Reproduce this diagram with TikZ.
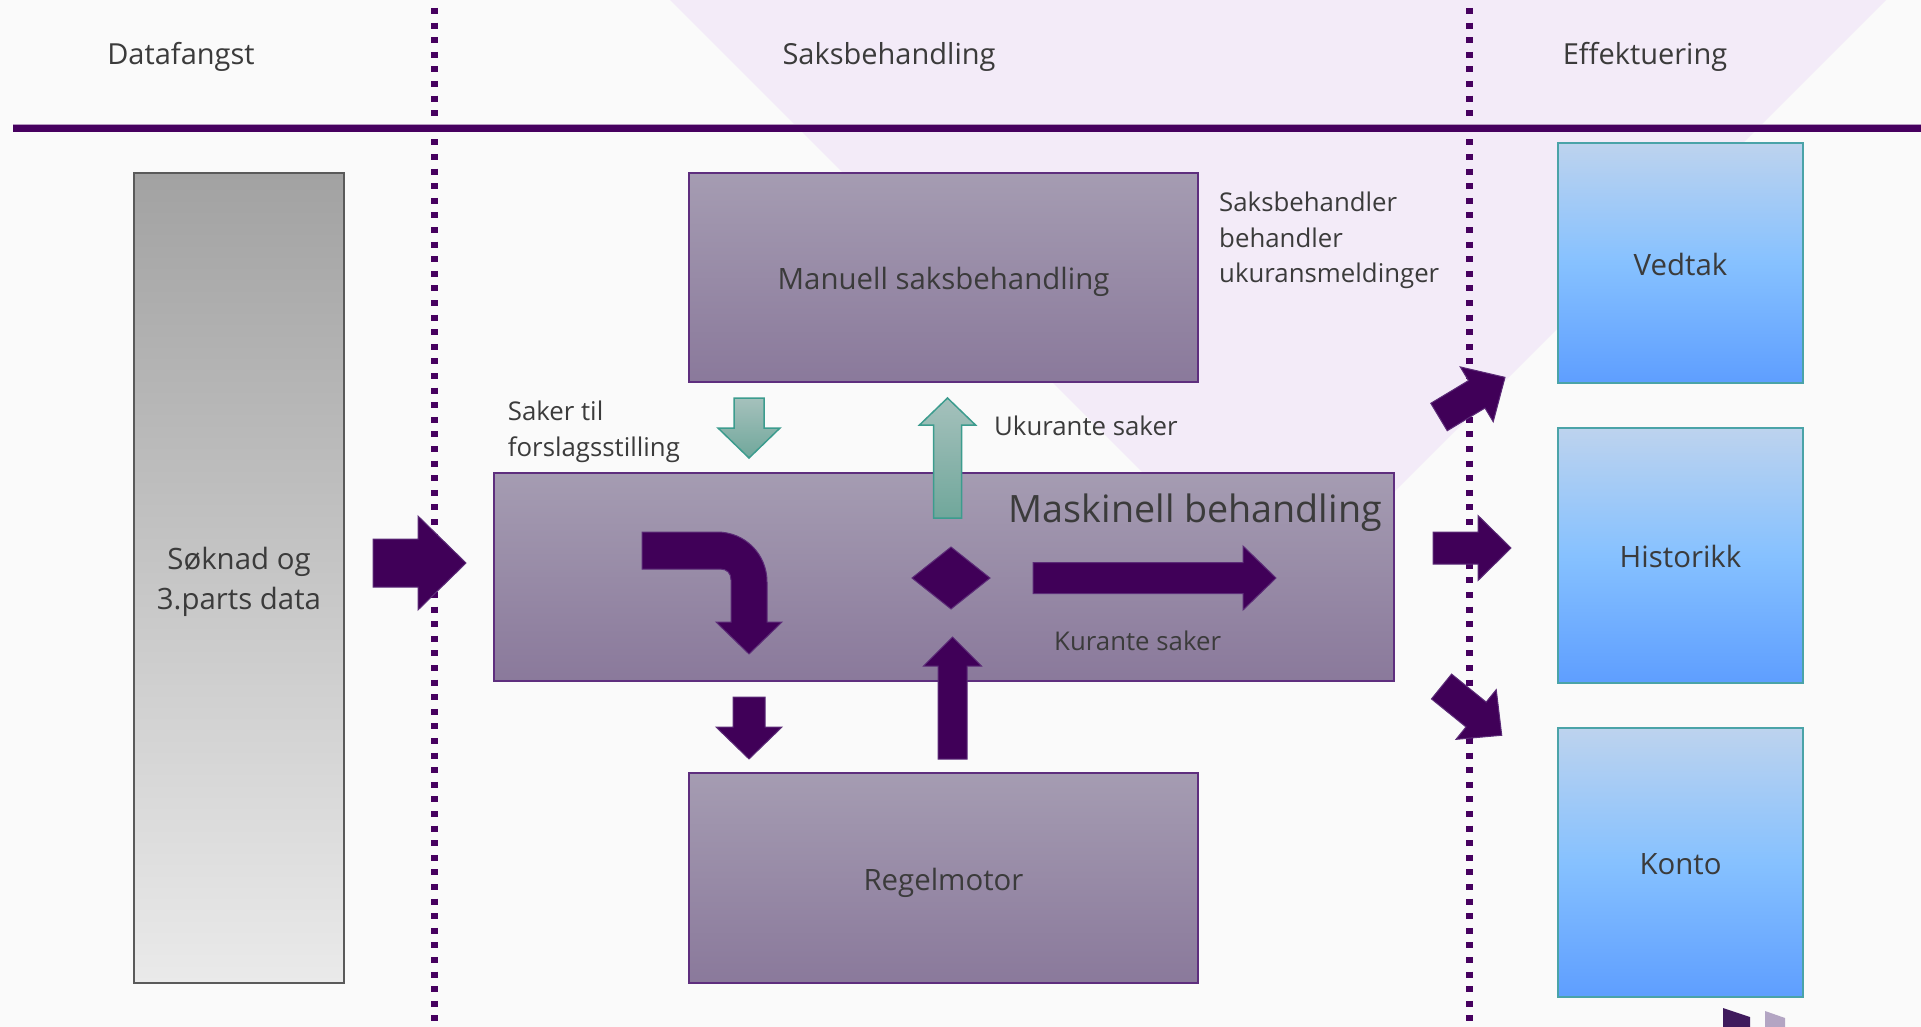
\documentclass[tikz,border=0pt]{standalone}
\usepackage{fontspec}
\setmainfont{Open Sans}
\usetikzlibrary{shapes.geometric}
\definecolor{bgcol}{HTML}{FAFAFA}
\definecolor{lav}{HTML}{F3EBF8}
\definecolor{dpurple}{HTML}{400058}
\definecolor{dpedge}{HTML}{5C2C78}
\definecolor{linepurple}{HTML}{46005F}
\definecolor{txt}{HTML}{3B3B3B}
\definecolor{boxtop}{HTML}{A59CB2}
\definecolor{boxbot}{HTML}{8A799B}
\definecolor{boxedge}{HTML}{5E2E7E}
\definecolor{graytop}{HTML}{A2A2A2}
\definecolor{graybot}{HTML}{EAEAEA}
\definecolor{grayedge}{HTML}{5A5A5A}
\definecolor{bluetop}{HTML}{BDD3EE}
\definecolor{bluemid}{HTML}{86C1FF}
\definecolor{bluebot}{HTML}{5E9EFF}
\definecolor{blueedge}{HTML}{4AA3A8}
\definecolor{greentop}{HTML}{A5C1BC}
\definecolor{greenbot}{HTML}{70A79B}
\definecolor{greenedge}{HTML}{3C9C8E}
\definecolor{cornerdark}{HTML}{3F1A5C}
\definecolor{cornerlight}{HTML}{B3A5C3}
\newcommand{\blockarrow}[8]{%
  \begin{scope}[shift={(#2,#3)},rotate=#4]
    \path[#1] (0,{-#6/2}) -- ({#5-#8},{-#6/2}) -- ({#5-#8},{-#7/2}) -- (#5,0)
      -- ({#5-#8},{#7/2}) -- ({#5-#8},{#6/2}) -- (0,{#6/2}) -- cycle;
  \end{scope}}
\begin{document}
\begin{tikzpicture}[x=1pt,y=-1pt,
  every node/.style={text=txt,inner sep=0pt},
  hdr/.style={font=\fontsize{29}{34}\selectfont},
  lbl/.style={font=\fontsize{25.8}{35.5}\selectfont,align=left},
  boxfont/.style={font=\fontsize{29.4}{40.5}\selectfont},
  capcenter/.style={text height=24pt,text depth=0pt},
  purplebox/.style={draw=boxedge,line width=1.5pt,top color=boxtop,bottom color=boxbot,
    boxfont,capcenter},
  graybox/.style={draw=grayedge,line width=1.5pt,top color=graytop,bottom color=graybot},
  bluebox/.style={draw=blueedge,line width=1.5pt,top color=bluetop,bottom color=bluebot,
    middle color=bluemid,boxfont,capcenter},
  darr/.style={fill=dpurple,draw=dpedge,line width=1pt},
  garr/.style={top color=greentop,bottom color=greenbot,draw=greenedge,line width=1.5pt},
  divider/.style={draw=linepurple,line width=7pt,dash pattern=on 6pt off 8.6pt}
]
\useasboundingbox (0,0) rectangle (1921,1027);
\fill[bgcol] (0,0) rectangle (1921,1027);
\fill[lav] (670,0) -- (1886,0) -- (1278,608) -- cycle;

% dividers
\draw[divider] (434,8) -- (434,1027);
\draw[divider] (1469.5,8) -- (1469.5,1027);
\draw[linepurple,line width=8pt] (13,128) -- (1921,128);
\draw[white!60!linepurple,line width=1pt] (13,124.5) -- (1921,124.5);

% headers
\node[hdr] (h1) at (181,57) {Datafangst};
\node[hdr] (h2) at (889,57) {Saksbehandling};
\node[hdr] (h3) at (1645,57) {Effektuering};

% boxes
\node[graybox,minimum width=210pt,minimum height=810pt] (soknad) at (239,578) {};
\node[boxfont,align=center] (soknadtxt) at (239,582) {Søknad og\\3.parts data};
\node[purplebox,minimum width=509pt,minimum height=209pt] (manuell) at (943.5,277.5) {Manuell saksbehandling};
\node[purplebox,minimum width=900pt,minimum height=208pt] (maskinell) at (944,577) {};
\node[purplebox,minimum width=509pt,minimum height=210pt] (regel) at (943.5,878) {Regelmotor};
\node[bluebox,minimum width=245pt,minimum height=240pt] (vedtak) at (1680.5,263) {Vedtak};
\node[bluebox,minimum width=245pt,minimum height=255pt] (historikk) at (1680.5,555.5) {Historikk};
\node[bluebox,minimum width=245pt,minimum height=269pt] (konto) at (1680.5,862.5) {Konto};

\node[font=\fontsize{37.7}{42}\selectfont,anchor=base east] (masktxt) at (1382,522.7) {Maskinell behandling};

% labels
\node[lbl,anchor=north west] (sbh) at (1219,192) {Saksbehandler\\behandler\\ukuransmeldinger};
\node[lbl,anchor=north west] (saker) at (507.7,401) {Saker til\\forslagsstilling};
\node[lbl,anchor=base west] (ukur) at (994,435) {Ukurante saker};
\node[lbl,anchor=base west] (kur) at (1054,650.7) {Kurante saker};

% block arrows
\blockarrow{darr}{373}{563}{0}{93}{48}{94}{48}
\blockarrow{garr}{749}{398}{-90}{60}{30}{62}{30}
\blockarrow{garr}{947.5}{518}{90}{120}{28}{56}{27}
\blockarrow{darr}{749}{697}{-90}{62}{32}{66}{32}
\blockarrow{darr}{952.5}{759}{90}{122}{29}{58}{29}
\blockarrow{darr}{1033}{578}{0}{243}{31}{64}{33}
\blockarrow{darr}{1433}{548}{0}{78}{32}{65}{33}
\blockarrow{darr}{1439}{417}{31}{77}{32}{64}{33}
\blockarrow{darr}{1441.5}{686.5}{-39}{77.5}{32}{64}{33}

% bent arrow
\path[darr] (642,532) -- (717,532) .. controls (745,532) and (767,554) .. (767,582)
  -- (767,622) -- (782,622) -- (749,654) -- (716,622) -- (731,622) -- (731,580)
  .. controls (731,573) and (727,569) .. (720,569) -- (642,569) -- cycle;

% decision diamond
\path[darr] (912,578) -- (951,547) -- (990,578) -- (951,609) -- cycle;

% partial shapes at bottom edge
\fill[cornerdark] (1723,1008) -- (1750,1017) -- (1750,1027) -- (1723,1027) -- cycle;
\fill[cornerlight] (1765,1011) -- (1785,1018) -- (1785,1027) -- (1765,1027) -- cycle;
\end{tikzpicture}
\end{document}
